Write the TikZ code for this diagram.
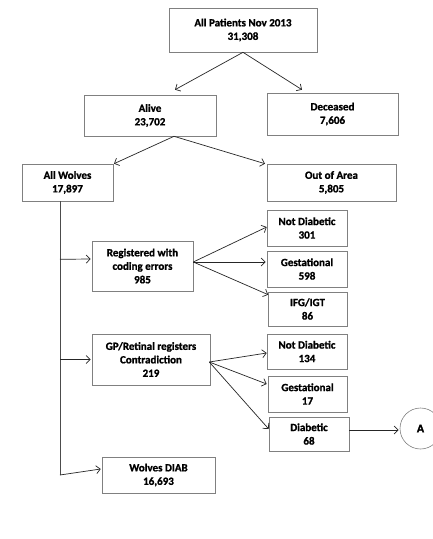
\documentclass[tikz,border=0pt]{standalone}
\usepackage{fontspec}
\setmainfont{Carlito}[BoldFeatures={FakeBold=1.2}]
\usetikzlibrary{arrows.meta,calc}
\begin{document}
\begin{tikzpicture}[x=1pt,y=-1pt,
  box/.style={draw=black!50, line width=0.6pt, rectangle, align=center, inner sep=0pt,
    font=\fontsize{11}{13.5}\selectfont\bfseries, text=black},
  arr/.style={draw=black!85, line width=0.7pt, -{Straight Barb[length=4pt,width=8pt]}},
  ln/.style={draw=black!70, line width=0.7pt}]
\useasboundingbox[fill=white] (0,0) rectangle (433,539);
\node[box, minimum width=148pt, minimum height=44pt] (top) at (243,30) {All Patients Nov 2013\\31,308};
\node[box, minimum width=132pt, minimum height=41pt] (alive) at (150,115.5) {Alive\\23,702};
\node[box, minimum width=131pt, minimum height=42pt] (dec) at (332.5,114) {Deceased\\7,606};
\node[box, minimum width=91pt, minimum height=37pt] (wolves) at (67.5,182.5) {All Wolves\\17,897};
\node[box, minimum width=129pt, minimum height=37pt] (out) at (331.5,182.5) {Out of Area\\5,805};
\node[box, minimum width=101pt, minimum height=50pt] (reg) at (142.5,266) {Registered with\\coding errors\\985};
\node[box, minimum width=80pt, minimum height=36pt] (nd1) at (307,228) {Not Diabetic\\301};
\node[box, minimum width=80pt, minimum height=36pt] (ge1) at (307,269) {Gestational\\598};
\node[box, minimum width=79pt, minimum height=34pt] (ifg) at (307.5,309) {IFG/IGT\\86};
\node[box, minimum width=118pt, minimum height=51pt] (gp) at (151,359.5) {GP/Retinal registers\\Contradiction\\219};
\node[box, minimum width=80pt, minimum height=35pt] (nd2) at (307,351.5) {Not Diabetic\\134};
\node[box, minimum width=79pt, minimum height=36pt] (ge2) at (307.5,394) {Gestational\\17};
\node[box, minimum width=80pt, minimum height=34pt] (dia) at (309,434) {Diabetic\\68};
\node[box, minimum width=113pt, minimum height=36pt] (wd) at (158.5,475) {Wolves DIAB\\16,693};
\node[box, circle, minimum size=41pt] (A) at (420.5,428.5) {\fontsize{12}{14}\selectfont\bfseries A};
% top level arrows
\draw[arr] (top.south) -- ($(alive.north)+(25,-5)$);
\draw[arr] (top.south) -- ($(dec.north)+(-30.5,-3)$);
\draw[arr] ($(alive.south)+(24,0)$) -- ($(wolves.north)+(46.5,0)$);
\draw[arr] ($(alive.south)+(24,0)$) -- ($(out.north)+(-66.5,0)$);
% trunk
\coordinate (tb) at ($(wolves.south)+(-7.5,0)$);
\coordinate (t1) at ($(tb)+(0,58)$);
\coordinate (t2) at (tb |- gp.west);
\coordinate (t3) at (tb |- wd.west);
\draw[ln] (tb) -- (t3);
\draw[arr] (t1) -- ($(reg.west)+(-1,-7)$);
\draw[arr] (t2) -- ($(gp.west)+(-1,0)$);
\draw[arr] (t3) -- ($(wd.west)+(-1,-6)$);
% registered branch
\coordinate (rs) at ($(reg.east)+(0,-4)$);
\draw[arr] (rs) -- ($(nd1.west)+(0,-1)$);
\draw[arr] (rs) -- ($(ge1.west)+(-1,-7)$);
\draw[arr] (rs) -- ($(ifg.north west)+(0.5,3)$);
% gp branch
\coordinate (gs) at ($(gp.east)+(-1,2.5)$);
\draw[arr] (gs) -- ($(nd2.west)+(0,1.5)$);
\draw[arr] (gs) -- ($(ge2.west)+(-1,-10)$);
\draw[arr] (gs) -- ($(dia.west)+(0,-5)$);
\draw[arr] ($(dia.east)+(0,-4)$) -- ($(A.west)+(-1,1.5)$);
\end{tikzpicture}
\end{document}
